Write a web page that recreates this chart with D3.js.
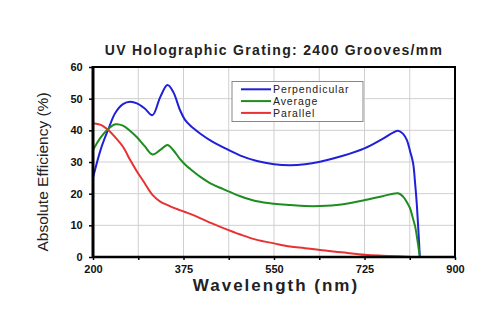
<!DOCTYPE html>
<html><head><meta charset="utf-8">
<script src="https://cdn.jsdelivr.net/npm/d3@7"></script>
<style>body{margin:0;background:#fff}svg{display:block;font-family:"Liberation Sans",Arial,sans-serif}</style>
</head><body>
<svg id="c" width="500" height="334"></svg>
<script>
const wavelength = [200,215,230,243,258,272,285,300,315,330,344,355,368,378,388,407,430,451,485,517,550,581,610,639,680,726,760,790,800,807,813,819,823,826,829,832];
const perpendicular = [25,34,40.5,45.5,48.3,49,48.5,46.9,44.8,50.5,54.3,52.2,46.5,43.3,41.5,39,36.5,34.7,32,30.3,29.3,29,29.3,30.1,31.8,34.4,37.3,39.9,38.8,36.9,33.5,29.6,23,17,9,0];
const average = [33.8,37.8,40.5,41.9,41.5,39.8,37.8,35,32.4,33.8,35.4,33.8,31,29.2,27.8,25.4,23,21.5,19.2,17.6,16.8,16.4,16.1,16.1,16.6,18,19.2,20.1,19,17.3,15.4,12,9.6,6.8,3.5,0];
const parallel = [42.2,41.7,40,37.8,34.8,30.6,27,23.3,19.6,17.5,16.4,15.6,14.8,14.2,13.6,12.3,10.6,9.2,7.1,5.4,4.3,3.3,2.8,2.2,1.5,0.7,0.4,0.2,0.12,0.08,0.03,0,null,null,null,null];
const seriesNames = ["Perpendicular","Average","Parallel"];
const seriesColors = ["#2020d8","#1e8c1e","#e83232"];
const xTicks = [200,375,550,725,900];
const xGrid = [287.5,375,462.5,550,637.5,725,812.5];
const yTicks = [0,10,20,30,40,50,60];

const svg = d3.select("#c");
const L=93,R=455,T=67,B=257;
const x = d3.scaleLinear().domain([200,900]).range([L,R]);
const y = d3.scaleLinear().domain([0,60]).range([B,T]);

svg.append("clipPath").attr("id","clip").append("rect")
  .attr("x",L).attr("y",T).attr("width",R-L).attr("height",B-T);

// grid
svg.append("g").selectAll("line").data(xGrid).join("line")
  .attr("x1",d=>x(d)).attr("x2",d=>x(d)).attr("y1",T).attr("y2",B)
  .attr("stroke","#cfcfcf").attr("stroke-width",1);
svg.append("g").selectAll("line").data(yTicks.slice(1,-1)).join("line")
  .attr("x1",L).attr("x2",R).attr("y1",d=>y(d)).attr("y2",d=>y(d))
  .attr("stroke","#cfcfcf").attr("stroke-width",1);

// lines
const all=[perpendicular,average,parallel];
const lines = svg.append("g").attr("clip-path","url(#clip)");
all.forEach((vals,i)=>{
  const pts = wavelength.map((w,j)=>[w,vals[j]]);
  const line = d3.line().defined(d=>d[1]!=null).x(d=>x(d[0])).y(d=>y(d[1])).curve(d3.curveCatmullRom.alpha(0.5));
  lines.append("path").attr("d",line(pts)).attr("fill","none")
    .attr("stroke",seriesColors[i]).attr("stroke-width",2);
});

// axes
const xAxis = d3.axisBottom(x).tickValues(d3.range(200,901,87.5)).tickSize(3)
  .tickFormat(d=>xTicks.includes(d)?d:"");
const gx = svg.append("g").attr("transform",`translate(0,${B})`).call(xAxis);
gx.select(".domain").remove();
gx.selectAll("line").attr("stroke","#000").attr("stroke-width",1.5);
gx.selectAll("text").attr("font-size",11).attr("font-weight","bold").attr("dy","0.95em").attr("fill","#111");

const yAxis = d3.axisLeft(y).tickValues(yTicks).tickSize(4);
const gy = svg.append("g").attr("transform",`translate(${L},0)`).call(yAxis);
gy.select(".domain").remove();
gy.selectAll("line").attr("stroke","#000").attr("stroke-width",1.5);
gy.selectAll("text").attr("font-size",11).attr("font-weight","bold").attr("dx","-0.3em").attr("fill","#111");

// frame
svg.append("rect").attr("x",L).attr("y",T).attr("width",R-L).attr("height",B-T)
  .attr("fill","none").attr("stroke","#000").attr("stroke-width",2);
svg.append("line").attr("x1",L).attr("x2",L).attr("y1",T-1).attr("y2",B+1).attr("stroke","#000").attr("stroke-width",3);
svg.append("line").attr("x1",L).attr("x2",R).attr("y1",B).attr("y2",B).attr("stroke","#000").attr("stroke-width",2.5);

// legend
const lg = svg.append("g");
lg.append("rect").attr("x",232).attr("y",81.5).attr("width",131).attr("height",40)
  .attr("fill","#fff").attr("stroke","#888").attr("stroke-width",1);
seriesNames.forEach((n,i)=>{
  const yy = 89.3 + i*11.8;
  lg.append("line").attr("x1",241).attr("x2",271).attr("y1",yy).attr("y2",yy)
    .attr("stroke",seriesColors[i]).attr("stroke-width",2);
  lg.append("text").attr("x",273).attr("y",yy).attr("dy","0.36em").attr("font-size",10.5)
    .attr("letter-spacing",0.9).attr("fill","#222").text(n);
});

// titles
svg.append("text").attr("x",274).attr("y",55).attr("text-anchor","middle")
  .attr("font-size",14).attr("font-weight","bold").attr("fill","#222")
  .attr("letter-spacing",1.3).text("UV Holographic Grating: 2400 Grooves/mm");
svg.append("text").attr("x",276).attr("y",291).attr("text-anchor","middle")
  .attr("font-size",17).attr("font-weight","bold").attr("fill","#222")
  .attr("letter-spacing",2).text("Wavelength (nm)");
svg.append("text").attr("transform","translate(48,172) rotate(-90)").attr("text-anchor","middle")
  .attr("font-size",15.5).attr("fill","#222").text("Absolute Efficiency (%)");
</script>
</body></html>
